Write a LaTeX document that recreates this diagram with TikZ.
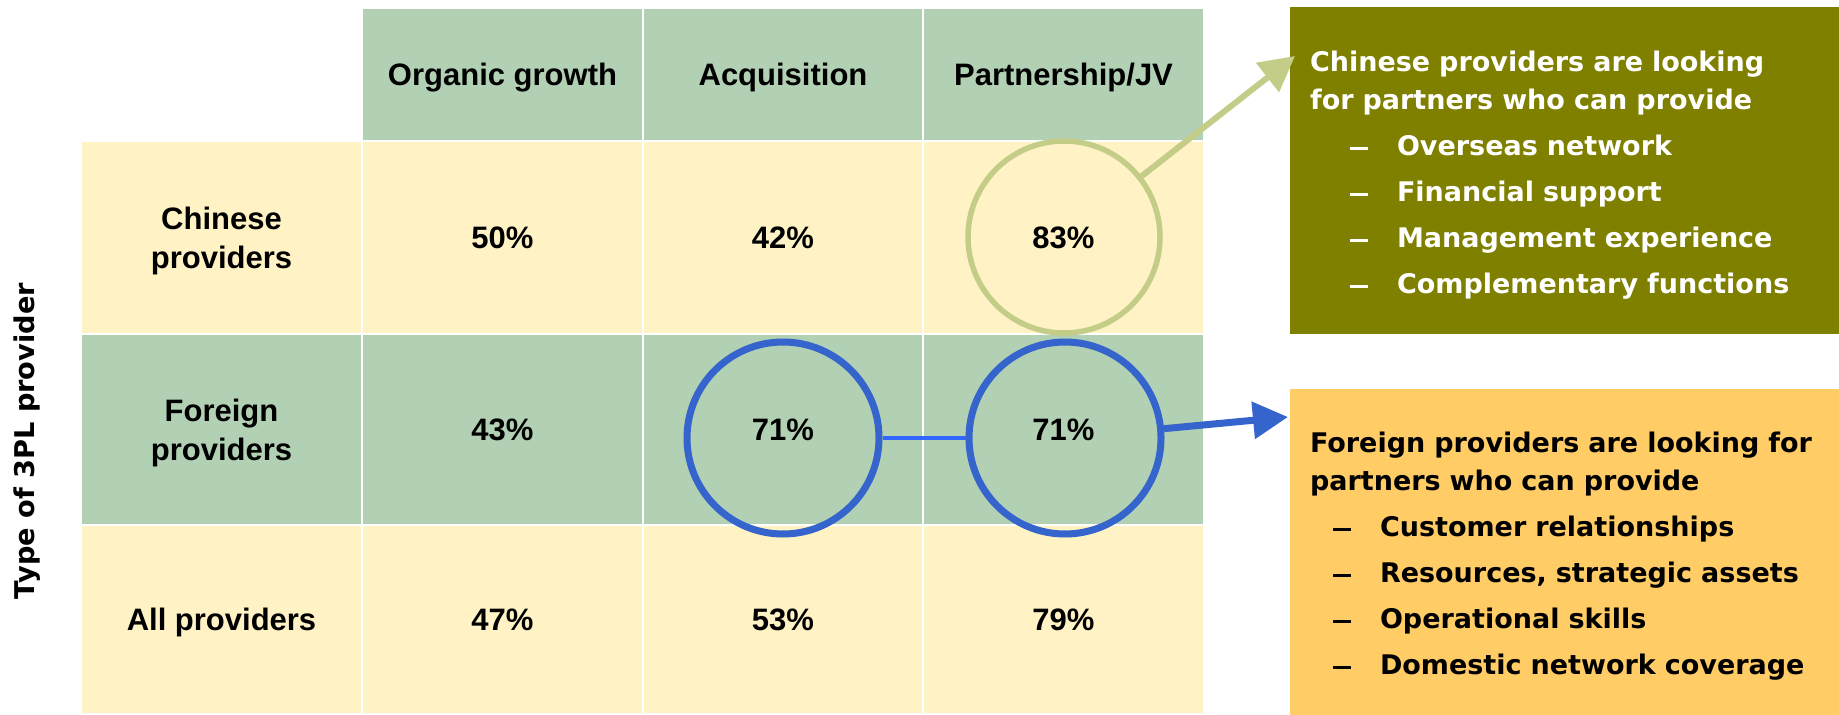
\documentclass[tikz,border=0pt]{standalone}
\usepackage{fontspec}
\setmainfont{Liberation Sans}
\newfontfamily\boxfont{DejaVu Sans}
\usetikzlibrary{arrows.meta,positioning}

\definecolor{cellgreen}{HTML}{B2D0B4}
\definecolor{cellyellow}{HTML}{FFF2C4}
\definecolor{olivebox}{HTML}{808000}
\definecolor{orangebox}{HTML}{FFCC66}
\definecolor{ringgreen}{HTML}{C4CD88}
\definecolor{ringblue}{HTML}{3564CC}
\definecolor{linkblue}{HTML}{3366FF}

\tikzset{
  cell/.style={draw=white, line width=1pt, minimum width=140.5pt, inner sep=0pt,
    text depth=0pt, align=center, font=\bfseries\fontsize{15.5}{19.5}\selectfont},
  ring/.style={circle, minimum size=96pt, inner sep=0pt},
  infobox/.style={minimum width=274.5pt, minimum height=163.5pt, inner xsep=10pt,
    text width=254.5pt, align=left, font=\boxfont\bfseries\fontsize{13.5}{19}\selectfont},
  callout/.style={line width=3pt, -{Triangle[length=17.5pt,width=18pt]}}
}

\begin{document}
\begin{tikzpicture}[x=0.5pt, y=-0.5pt]
    \useasboundingbox (0,0) rectangle (1839,715);

    \newcommand{\dashmark}{\rule[3pt]{9pt}{1.4pt}}
    \newcommand{\olvitem}[1]{\hspace*{20pt}\makebox[23.5pt][l]{\dashmark}#1}
    \newcommand{\orgitem}[1]{\hspace*{11.5pt}\makebox[23.5pt][l]{\dashmark}#1}

    % Header row
    \foreach \cx/\nm/\txt in {502.5/og/{Organic growth}, 783/acq/Acquisition, 1063.5/pjv/{Partnership/JV}}
      \node[cell, fill=cellgreen, minimum height=66.5pt] (hd-\nm) at (\cx,74.5) {\txt};

    % Provider rows (y, height, fill, name, label, values)
    \foreach \cy/\h/\fc/\rn/\lab/\va/\vb/\vc in {
        237.5/96.5/cellyellow/cn/{Chinese\\providers}/50/42/83,
        429.5/95.5/cellgreen/fr/{Foreign\\providers}/43/71/71,
        619.5/94.5/cellyellow/all/{All providers}/47/53/79}
    {
      \node[cell, fill=\fc, minimum height=\h pt] (\rn-lbl) at (221.5,\cy) {\lab};
      \node[cell, fill=\fc, minimum height=\h pt] (\rn-og) at (502.5,\cy) {\va\%};
      \node[cell, fill=\fc, minimum height=\h pt] (\rn-acq) at (783,\cy) {\vb\%};
      \node[cell, fill=\fc, minimum height=\h pt] (\rn-pjv) at (1063.5,\cy) {\vc\%};
    }

    % Axis label
    \node[rotate=90, font=\boxfont\bfseries\fontsize{13.6}{15}\selectfont] (axislbl) at (27,441) {Type of 3PL provider};

    % Rings
    \node[ring, draw=ringgreen, line width=2.75pt] (ringcn) at (1064,237) {};
    \node[ring, draw=ringblue, line width=3.5pt] (ringfa) at (783,438) {};
    \node[ring, draw=ringblue, line width=3.5pt] (ringfp) at (1065,438) {};
    \draw[linkblue, line width=2pt] (ringfa) -- (ringfp);

    % Chinese providers box
    \node[infobox, fill=olivebox, text=white] (cnbox) at (1564.5,170.5) {%
      \rule{0pt}{15pt}Chinese providers are looking\\
      for partners who can provide\\[4pt]
      \olvitem{Overseas network}\\[4pt]
      \olvitem{Financial support}\\[4pt]
      \olvitem{Management experience}\\[4pt]
      \olvitem{Complementary functions}};

    % Foreign providers box
    \node[infobox, fill=orangebox, text=black, minimum height=163pt, below=27pt of cnbox] (frbox) {%
      \rule{0pt}{15pt}Foreign providers are looking for\\
      partners who can provide\\[4pt]
      \orgitem{Customer relationships}\\[4pt]
      \orgitem{Resources, strategic assets}\\[4pt]
      \orgitem{Operational skills}\\[4pt]
      \orgitem{Domestic network coverage}};

    % Callout arrows
    \coordinate (cnTip) at (1295,56);
    \coordinate (frTip) at (1288,417);
    \draw[callout, ringgreen] (ringcn) -- (cnTip);
    \draw[callout, ringblue, line width=3.5pt] (ringfp) -- (frTip);
\end{tikzpicture}
\end{document}
